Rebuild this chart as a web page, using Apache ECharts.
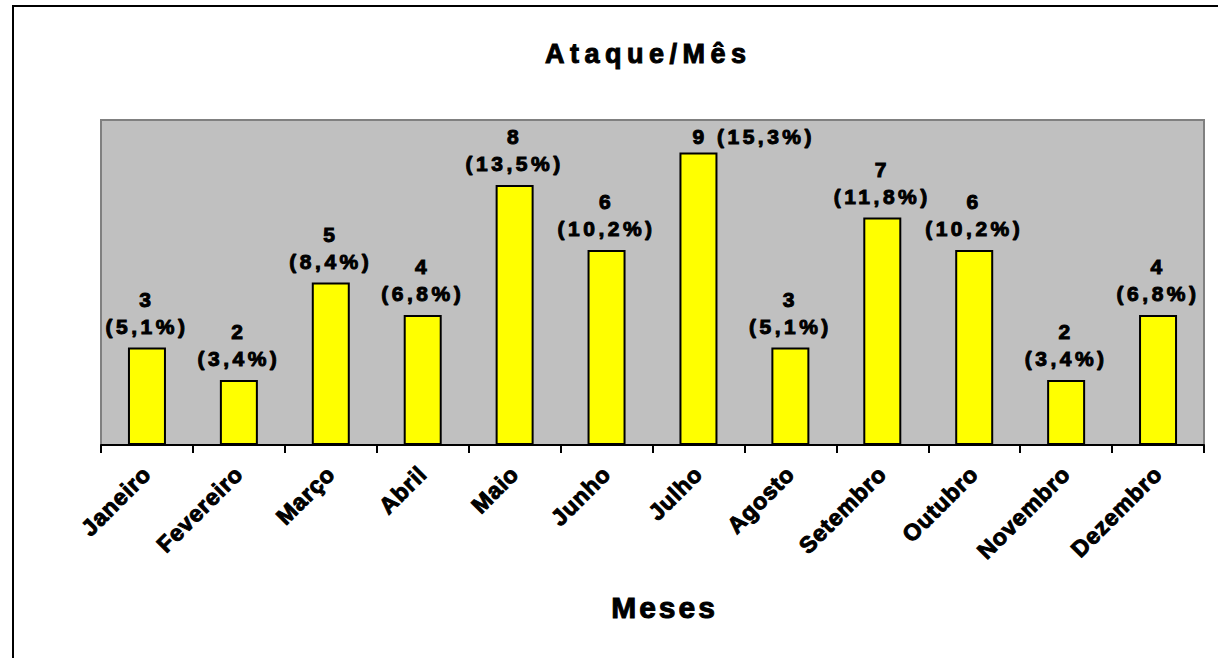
<!DOCTYPE html>
<html>
<head>
<meta charset="utf-8">
<script src="https://cdn.jsdelivr.net/npm/echarts@6/dist/echarts.min.js"></script>
<style>
  html, body { margin: 0; padding: 0; background: #fff; }
  #chart { width: 1218px; height: 658px; }
  /* espaçamento entre letras, como no gráfico original */
  #chart text[style*="27px"] { letter-spacing: 5.5px; }
  #chart text[style*="30px"] { letter-spacing: 3px; }
  #chart text[style*="21px"] { letter-spacing: 3.5px; }
  #chart text[style*="23px"] { letter-spacing: 0.8px; }
</style>
</head>
<body>
<div id="chart"></div>
<script>
// dados do gráfico
const meses = ['Janeiro', 'Fevereiro', 'Março', 'Abril', 'Maio', 'Junho',
  'Julho', 'Agosto', 'Setembro', 'Outubro', 'Novembro', 'Dezembro'];
const ataques = [3, 2, 5, 4, 8, 6, 9, 3, 7, 6, 2, 4];
const percentuais = ['5,1%', '3,4%', '8,4%', '6,8%', '13,5%', '10,2%',
  '15,3%', '5,1%', '11,8%', '10,2%', '3,4%', '6,8%'];

const fonte = '"Liberation Sans", Arial, sans-serif';
// traço fino para deixar o negrito mais pesado
const negrito = { fontFamily: fonte, fontWeight: 'bold', color: '#000', textBorderColor: '#000', textBorderWidth: 1 };

let myChart = echarts.init(document.getElementById('chart'), null, { renderer: 'svg' });

// julho tem o rótulo numa linha só, começando sobre a barra
const barData = ataques.map(function (v, i) {
  if (i === 6) {
    return { value: v, label: { align: 'left', offset: [-6, 5] } };
  }
  return v;
});

const option = {
  animation: false,
  backgroundColor: '#fff',
  textStyle: { fontFamily: fonte },
  graphic: [{
    type: 'rect',
    shape: { x: 13, y: 6, width: 1215, height: 660 },
    style: { fill: 'none', stroke: '#000', lineWidth: 2 },
    silent: true
  }],
  title: {
    text: 'Ataque/Mês',
    left: 540,
    top: 35,
    textStyle: Object.assign({ fontSize: 27 }, negrito)
  },
  grid: {
    left: 101, right: 14, top: 120, bottom: 213,
    show: true,
    backgroundColor: '#c0c0c0',
    borderColor: '#808080',
    borderWidth: 2
  },
  xAxis: {
    type: 'category',
    data: meses,
    name: 'Meses',
    nameLocation: 'middle',
    nameGap: 147,
    nameTextStyle: Object.assign({ fontSize: 30, padding: [0, 0, 0, 24] }, negrito),
    axisLine: { lineStyle: { color: '#000', width: 2 } },
    axisTick: { show: true, length: 8, lineStyle: { color: '#000', width: 2 } },
    axisLabel: Object.assign({
      interval: 0,
      rotate: 45,
      margin: 25,
      fontSize: 23
    }, negrito)
  },
  yAxis: {
    type: 'value',
    min: 0,
    max: 10,
    show: false,
    splitLine: { show: false }
  },
  series: [{
    type: 'bar',
    data: barData,
    barWidth: 38,
    itemStyle: { color: '#ffff00', borderColor: '#000', borderWidth: 2 },
    label: Object.assign({
      show: true,
      position: 'top',
      distance: 8,
      fontSize: 21,
      lineHeight: 27,
      formatter: function (p) {
        if (p.dataIndex === 6) {
          return p.value + ' (' + percentuais[p.dataIndex] + ')';
        }
        return p.value + '\n(' + percentuais[p.dataIndex] + ')';
      }
    }, negrito)
  }]
};

myChart.setOption(option);
</script>
</body>
</html>
